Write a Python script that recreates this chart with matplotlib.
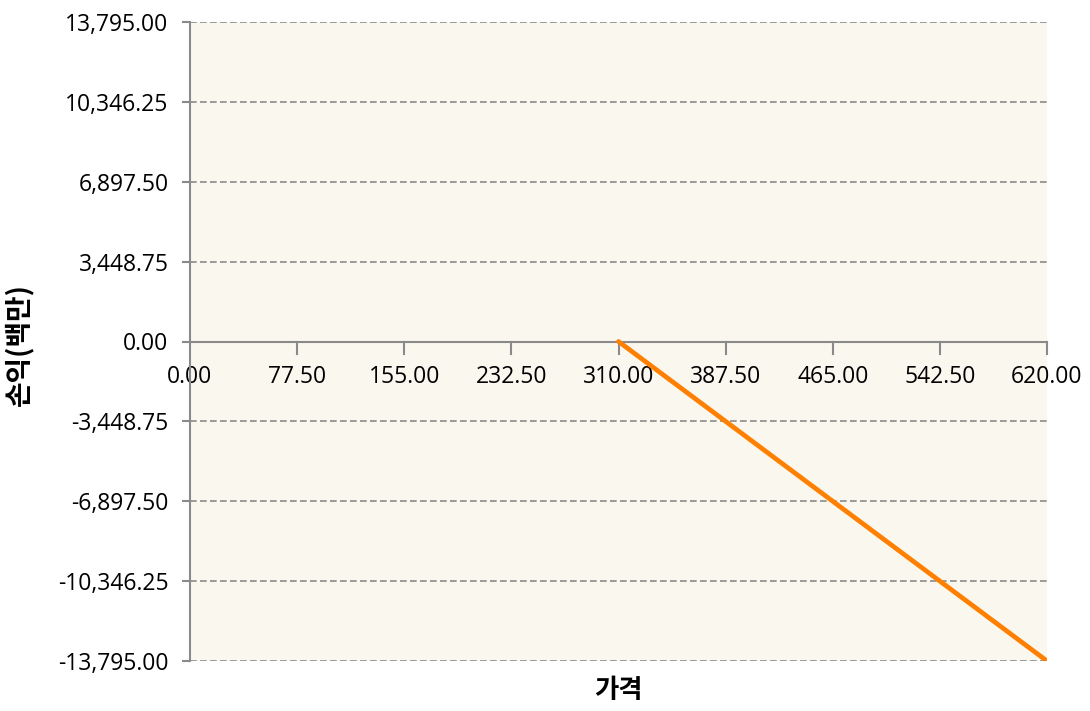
import matplotlib.pyplot as plt
import numpy as np

plt.rcParams['font.family'] = ['Open Sans', 'Noto Sans CJK KR', 'DejaVu Sans']

price = [310.0, 620.0]
profit = [0.0, -13795.0]
x_ticks = [0, 77.5, 155, 232.5, 310, 387.5, 465, 542.5, 620]
y_ticks = [-13795, -10346.25, -6897.5, -3448.75, 0, 3448.75, 6897.5, 10346.25, 13795]

fig = plt.figure(figsize=(10.9, 7.11), dpi=100)
ax = fig.add_axes([190 / 1090, 1 - 661 / 711, (1047 - 190) / 1090, (661 - 22) / 711])
ax.set_facecolor('#faf7ee')

ax.set_xlim(0, 620)
ax.set_ylim(-13795, 13795)

for y in y_ticks:
    if y != 0:
        ax.axhline(y, color='#8a8a8a', lw=1.2, ls=(0, (4, 2)), zorder=1)

ax.plot(price, profit, color='#ff8000', lw=3.4, solid_capstyle='round', zorder=3)

for s in ['top', 'right']:
    ax.spines[s].set_visible(False)
ax.spines['bottom'].set_position(('data', 0))
ax.spines['bottom'].set_color('#8a8a8a')
ax.spines['left'].set_color('#8a8a8a')
ax.spines['bottom'].set_linewidth(1.5)
ax.spines['left'].set_linewidth(1.5)

ax.set_xticks(x_ticks)
ax.set_xticklabels(['%.2f' % v for v in x_ticks])
ax.set_yticks(y_ticks)
ax.set_yticklabels(['{:,.2f}'.format(v) for v in y_ticks])
ax.tick_params(axis='x', direction='in', length=0, pad=17, labelsize=16.5, colors='#8a8a8a', labelcolor='black')
ax.tick_params(axis='y', direction='out', length=5.5, width=1.5, pad=10, labelsize=16.5, colors='#8a8a8a', labelcolor='black')

# small downward tick marks along the zero axis
for x in x_ticks[1:]:
    ax.plot([x, x], [0, -0.02 * 27590], color='#8a8a8a', lw=1.5, zorder=2, clip_on=False)

fig.text(19 / 1090, 1 - 344 / 711, '손익(백만)', rotation=90, ha='center', va='center',
         fontsize=20, fontweight='bold', family=['Noto Sans CJK KR'])
fig.text(618 / 1090, 1 - 691 / 711, '가격', ha='center', va='center',
         fontsize=19, fontweight='bold', family=['Noto Sans CJK KR'])

fig.savefig('out.png', dpi=100)
